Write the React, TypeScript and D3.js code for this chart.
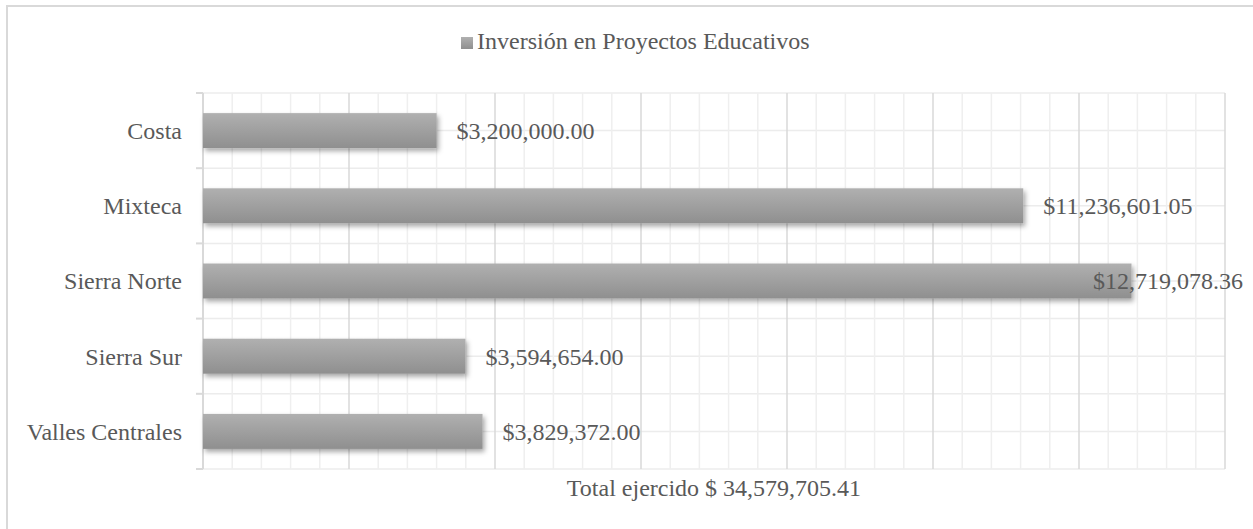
import React from "react";
import * as d3 from "d3";

const categories = ["Costa", "Mixteca", "Sierra Norte", "Sierra Sur", "Valles Centrales"];
const values = [3200000, 11236601.05, 12719078.36, 3594654, 3829372];
const seriesName = "Inversión en Proyectos Educativos";
const axisMax = 14000000;
const majorStep = 2000000;
const minorStep = 400000;

const W = 1253;
const H = 529;
const FONT = '"Liberation Serif", "Times New Roman", Times, "DejaVu Serif", serif';
const TEXT = "#595959";

const plot = { left: 203, right: 1225, top: 93, bottom: 469 };

function measure(text: string, size: number): number {
  if (typeof document === "undefined") return text.length * size * 0.45;
  const c = document.createElement("canvas");
  const ctx = c.getContext("2d");
  if (!ctx) return text.length * size * 0.45;
  ctx.font = `${size}px ${FONT}`;
  return ctx.measureText(text).width;
}

const txt = { fontFamily: FONT, fontSize: "24px", fill: TEXT } as React.CSSProperties;

export default function App() {
  const x = d3.scaleLinear().domain([0, axisMax]).range([plot.left, plot.right]);
  const y = d3.scaleBand<string>().domain(categories).range([plot.top, plot.bottom]).paddingInner(0).paddingOuter(0);
  const bw = y.bandwidth();
  const barH = bw * 0.465;
  const fmt = d3.format(",.2f");
  const total = d3.sum(values);

  const minorTicks = d3.range(0, axisMax + 1, minorStep).filter((v) => Math.round(v) % majorStep !== 0);
  const majorTicks = d3.range(0, axisMax + 1, majorStep);
  const hLines: number[] = [];
  categories.forEach((c) => {
    hLines.push(y(c)!);
    hLines.push(y(c)! + bw / 2);
  });
  hLines.push(plot.bottom);

  const labelLimit = 1243;

  return (
    <svg width={W} height={H} style={{ position: "absolute", left: 0, top: 0, background: "#fff", fontFamily: FONT }}>
      <defs>
        <linearGradient id="barGrad" x1="0" y1="0" x2="0" y2="1">
          <stop offset="0" stopColor="#b0b0b0" />
          <stop offset="1" stopColor="#8f8f8f" />
        </linearGradient>
        <filter id="shadow" x="-5%" y="-30%" width="110%" height="170%">
          <feDropShadow dx="2" dy="3" stdDeviation="2.5" floodColor="#000" floodOpacity="0.35" />
        </filter>
      </defs>
      <rect x={7} y={6} width={W + 10} height={H + 10} fill="#fff" stroke="#d9d9d9" strokeWidth={2} />

      {/* legend */}
      <rect x={461} y={37} width={12} height={12} fill="url(#barGrad)" />
      <text x={477} y={49} style={txt}>{seriesName}</text>

      {/* horizontal gridlines */}
      {hLines.map((v, i) => (
        <line key={"h" + i} x1={plot.left} x2={plot.right} y1={v} y2={v} stroke="#ececec" strokeWidth={1.5} />
      ))}
      {/* minor vertical gridlines */}
      {minorTicks.map((v) => (
        <line key={"mi" + v} x1={x(v)} x2={x(v)} y1={plot.top} y2={plot.bottom} stroke="#efefef" strokeWidth={1.5} />
      ))}
      {/* major vertical gridlines */}
      {majorTicks.map((v) => (
        <line key={"ma" + v} x1={x(v)} x2={x(v)} y1={plot.top} y2={plot.bottom} stroke="#d9d9d9" strokeWidth={1.5} />
      ))}

      {/* category axis */}
      <line x1={plot.left} x2={plot.left} y1={plot.top} y2={plot.bottom} stroke="#d9d9d9" strokeWidth={2} />
      {[...categories.map((c) => y(c)!), plot.bottom].map((v, i) => (
        <line key={"t" + i} x1={plot.left - 7} x2={plot.left} y1={v} y2={v} stroke="#d9d9d9" strokeWidth={2} />
      ))}
      {categories.map((c) => (
        <text key={"c" + c} x={182} y={y(c)! + bw / 2} dy="0.35em" textAnchor="end" style={txt}>
          {c}
        </text>
      ))}

      {/* bars */}
      {categories.map((c, i) => (
        <rect
          key={"b" + c}
          x={x(0)}
          y={y(c)! + bw / 2 - barH / 2}
          width={x(values[i]) - x(0)}
          height={barH}
          fill="url(#barGrad)"
          filter="url(#shadow)"
        />
      ))}

      {/* value labels */}
      {categories.map((c, i) => {
        const label = "$" + fmt(values[i]);
        const w = measure(label, 24);
        let lx = x(values[i]) + 20;
        if (lx + w > labelLimit) lx = labelLimit - w;
        return (
          <text key={"v" + c} x={lx} y={y(c)! + bw / 2} dy="0.35em" style={txt}>
            {label}
          </text>
        );
      })}

      {/* axis title */}
      <text x={(plot.left + plot.right) / 2} y={496} textAnchor="middle" style={txt}>
        {"Total ejercido $ " + fmt(total)}
      </text>
    </svg>
  );
}
